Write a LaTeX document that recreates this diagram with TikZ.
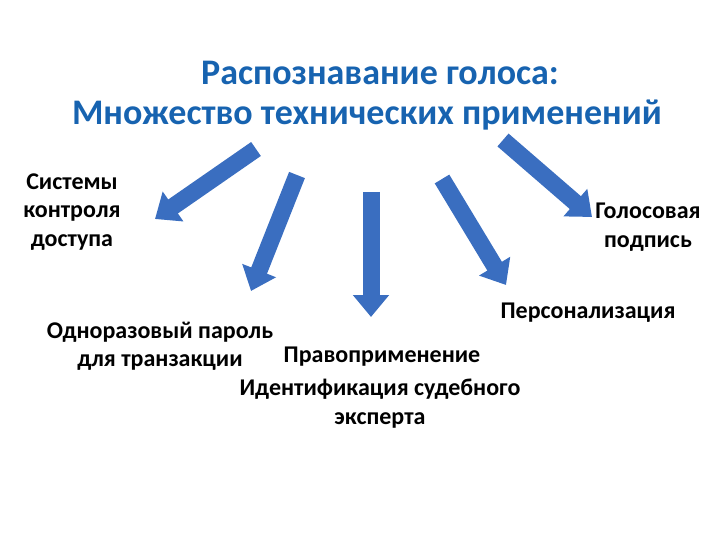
\documentclass[tikz,border=0pt]{standalone}
\usepackage{fontspec}
\setmainfont{Carlito}
\usetikzlibrary{arrows.meta}

\definecolor{titleblue}{RGB}{23,99,176}
\definecolor{arrowblue}{RGB}{58,110,192}

\begin{document}
\begin{tikzpicture}
[
	x=1pt,
	y=-1pt,
	blockarrow/.style={arrowblue,line width=17pt,-{Triangle[width=35pt,length=22pt]}},
	title/.style={text=titleblue,font=\fontsize{36}{42}\selectfont\bfseries,inner sep=0pt},
	label/.style={font=\fontsize{24}{28.5}\selectfont\bfseries,align=center,inner sep=0pt}
]

	\useasboundingbox (0,0) rectangle (720,540);

	% title
	\node[title] at (380,73) (heading) {Распознавание голоса:};
	\node[title] at (367,115) (subheading) {Множество технических применений};

	% arrow ends
	\coordinate (tailA) at (256,149);
	\coordinate (tipA) at (155,219);
	\coordinate (tailB) at (297,175);
	\coordinate (tipB) at (251,291);
	\coordinate (tailC) at (371,192);
	\coordinate (tipC) at (371,317);
	\coordinate (tailD) at (442,179);
	\coordinate (tipD) at (506,285);
	\coordinate (tailE) at (503,140);
	\coordinate (tipE) at (592,217);

	\draw[blockarrow] (tailA) -- (tipA);
	\draw[blockarrow] (tailB) -- (tipB);
	\draw[blockarrow] (tailC) -- (tipC);
	\draw[blockarrow] (tailD) -- (tipD);
	\draw[blockarrow] (tailE) -- (tipE);

	% applications
	\node[label] at (72,212) (access) {Системы\\контроля\\доступа};
	\node[label] at (648,227) (signature) {Голосовая\\подпись};
	\node[label] at (588,313) (personal) {Персонализация};
	\node[label] at (160,346) (password) {Одноразовый пароль\\для транзакции};
	\node[label] at (382,357) (enforce) {Правоприменение};
	\node[label,text depth=0pt] at (380,402) (forensic) {Идентификация судебного\\[0.5pt]эксперта};

\end{tikzpicture}
\end{document}
